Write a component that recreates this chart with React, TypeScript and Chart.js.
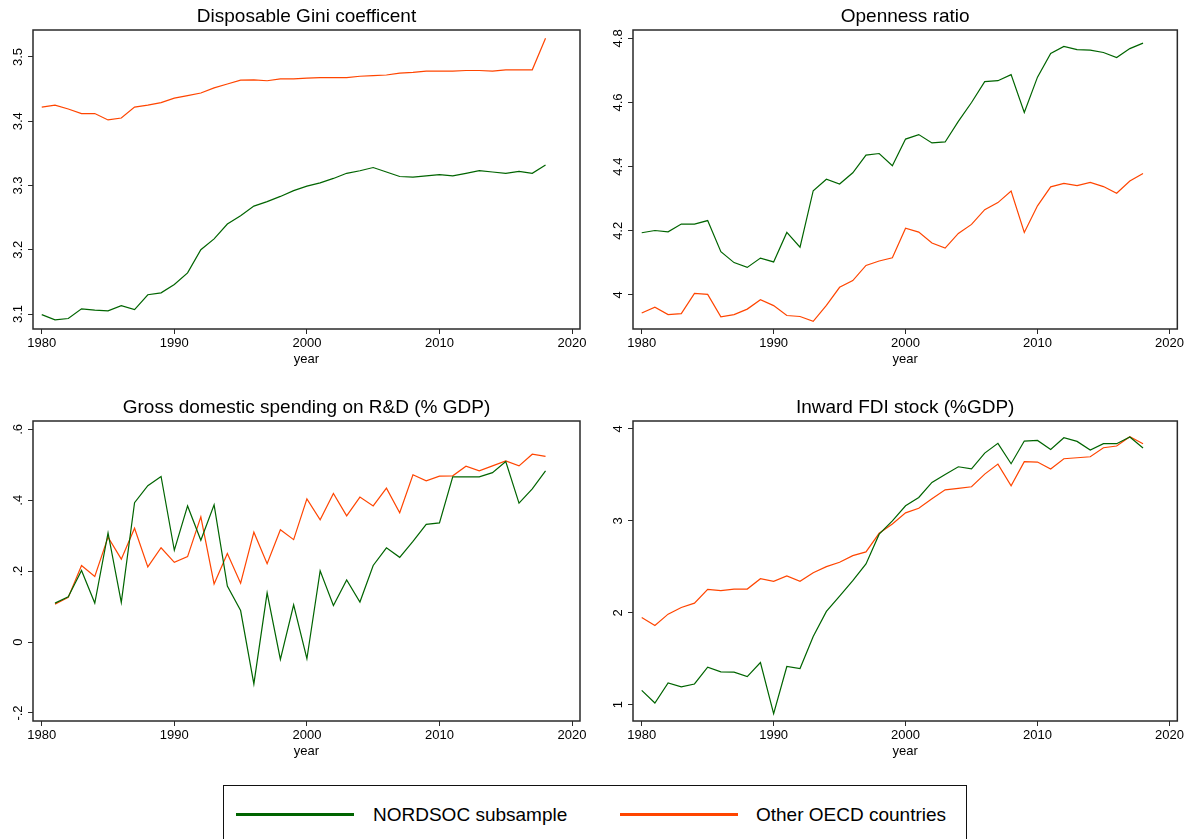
import React, { useEffect, useRef } from "react";
import { Chart, registerables } from "chart.js";

Chart.register(...registerables);

const FONT = '"Liberation Sans", Arial, Helvetica, sans-serif';
const GREEN = "#006400";
const ORANGE = "#FF4500";

const YEARS = [
  1980, 1981, 1982, 1983, 1984, 1985, 1986, 1987, 1988, 1989,
  1990, 1991, 1992, 1993, 1994, 1995, 1996, 1997, 1998, 1999,
  2000, 2001, 2002, 2003, 2004, 2005, 2006, 2007, 2008, 2009,
  2010, 2011, 2012, 2013, 2014, 2015, 2016, 2017, 2018,
];

const X_TICKS = [1980, 1990, 2000, 2010, 2020];

// Disposable Gini coefficent
const GINI_NORDSOC = [
  3.099, 3.091, 3.093, 3.108, 3.106, 3.105, 3.113, 3.107, 3.13, 3.133,
  3.146, 3.164, 3.2, 3.217, 3.24, 3.253, 3.268, 3.275, 3.283, 3.292,
  3.299, 3.304, 3.311, 3.319, 3.323, 3.328, 3.321, 3.314, 3.313, 3.315,
  3.317, 3.315, 3.319, 3.323, 3.321, 3.319, 3.322, 3.319, 3.332,
];
const GINI_OTHER = [
  3.422, 3.425, 3.419, 3.412, 3.412, 3.402, 3.405, 3.422, 3.425, 3.429,
  3.436, 3.44, 3.444, 3.452, 3.458, 3.464, 3.4645, 3.463, 3.466, 3.466,
  3.467, 3.468, 3.468, 3.468, 3.47, 3.471, 3.472, 3.475, 3.476, 3.478,
  3.478, 3.478, 3.479, 3.479, 3.478, 3.48, 3.48, 3.48, 3.529,
];
const GINI_TICKS = [3.1, 3.2, 3.3, 3.4, 3.5];
const GINI_LABELS = ["3.1", "3.2", "3.3", "3.4", "3.5"];

// Openness ratio
const OPEN_NORDSOC = [
  4.194, 4.201, 4.197, 4.221, 4.221, 4.232, 4.135, 4.101, 4.086, 4.115,
  4.103, 4.195, 4.149, 4.325, 4.361, 4.346, 4.381, 4.436, 4.441, 4.403,
  4.486, 4.5, 4.474, 4.477, 4.541, 4.6, 4.665, 4.668, 4.687, 4.569,
  4.679, 4.753, 4.775, 4.765, 4.763, 4.756, 4.74, 4.768, 4.785,
];
const OPEN_OTHER = [
  3.944, 3.962, 3.939, 3.942, 4.005, 4.002, 3.932, 3.939, 3.956, 3.985,
  3.967, 3.936, 3.933, 3.918, 3.968, 4.024, 4.045, 4.092, 4.106, 4.116,
  4.208, 4.196, 4.162, 4.146, 4.192, 4.22, 4.266, 4.288, 4.324, 4.195,
  4.278, 4.337, 4.348, 4.341, 4.351, 4.338, 4.317, 4.355, 4.379,
];
const OPEN_TICKS = [4, 4.2, 4.4, 4.6, 4.8];
const OPEN_LABELS = ["4", "4.2", "4.4", "4.6", "4.8"];

// Gross domestic spending on R&D (% GDP) - no value for 1980
const RD_NORDSOC = [
  null, 0.11, 0.128, 0.202, 0.11, 0.308, 0.112, 0.393, 0.441, 0.467,
  0.259, 0.384, 0.287, 0.387, 0.158, 0.089, -0.118, 0.139, -0.049, 0.105,
  -0.047, 0.201, 0.103, 0.175, 0.113, 0.216, 0.266, 0.239, 0.284, 0.332,
  0.336, 0.466, 0.466, 0.466, 0.478, 0.509, 0.392, 0.432, 0.483,
];
const RD_OTHER = [
  null, 0.107, 0.126, 0.216, 0.185, 0.296, 0.234, 0.321, 0.212, 0.266,
  0.225, 0.241, 0.353, 0.164, 0.25, 0.166, 0.31, 0.221, 0.317, 0.289,
  0.404, 0.345, 0.419, 0.356, 0.409, 0.384, 0.434, 0.365, 0.472, 0.455,
  0.468, 0.469, 0.496, 0.483, 0.497, 0.511, 0.497, 0.53, 0.524,
];
const RD_TICKS = [-0.2, 0, 0.2, 0.4, 0.6];
const RD_LABELS = ["-.2", "0", ".2", ".4", ".6"];

// Inward FDI stock (%GDP)
const FDI_NORDSOC = [
  1.156, 1.018, 1.236, 1.193, 1.225, 1.407, 1.356, 1.353, 1.305, 1.458,
  0.902, 1.415, 1.393, 1.742, 2.015, 2.182, 2.349, 2.531, 2.855, 3.0,
  3.164, 3.255, 3.418, 3.505, 3.589, 3.567, 3.738, 3.844, 3.622, 3.869,
  3.876, 3.778, 3.905, 3.865, 3.771, 3.84, 3.84, 3.913, 3.793,
];
const FDI_OTHER = [
  1.949, 1.862, 1.985, 2.058, 2.105, 2.255, 2.24, 2.258, 2.258, 2.371,
  2.342, 2.4, 2.342, 2.436, 2.502, 2.549, 2.622, 2.662, 2.865, 2.967,
  3.087, 3.138, 3.24, 3.338, 3.353, 3.371, 3.509, 3.618, 3.382, 3.644,
  3.64, 3.564, 3.676, 3.687, 3.698, 3.796, 3.815, 3.916, 3.84,
];
const FDI_TICKS = [1, 2, 3, 4];
const FDI_LABELS = ["1", "2", "3", "4"];

const SERIES_NAMES = ["NORDSOC subsample", "Other OECD countries"];

const framePlugin = {
  id: "frame",
  afterDraw(chart: any, _args: any, opts: any) {
    const { ctx, chartArea } = chart;
    const { left, top, right, bottom } = chartArea;
    ctx.save();
    ctx.strokeStyle = "#2a2a2a";
    ctx.lineWidth = 1.5;
    ctx.strokeRect(left, top, right - left, bottom - top);
    const ys = chart.scales.y;
    ctx.fillStyle = "#000";
    ctx.font = `13px ${FONT}`;
    ctx.textAlign = "center";
    ctx.textBaseline = "middle";
    (opts.ticks as number[]).forEach((v, i) => {
      const py = ys.getPixelForValue(v);
      ctx.save();
      ctx.translate(left - 15, py);
      ctx.rotate(-Math.PI / 2);
      ctx.fillText(opts.labels[i], 0, 0);
      ctx.restore();
    });
    ctx.restore();
  },
};

type PanelProps = {
  title: string;
  nordsoc: (number | null)[];
  other: (number | null)[];
  yMin: number;
  yMax: number;
  yTicks: number[];
  yLabels: string[];
  left: number;
  top: number;
  width: number;
  height: number;
  padRight: number;
};

function Panel(p: PanelProps) {
  const ref = useRef<HTMLCanvasElement | null>(null);
  useEffect(() => {
    if (!ref.current) return;
    const mk = (vals: (number | null)[]) =>
      YEARS.map((yr, i) => ({ x: yr, y: vals[i] }));
    const chart = new Chart(ref.current, {
      type: "line",
      data: {
        datasets: [
          {
            label: SERIES_NAMES[0],
            data: mk(p.nordsoc) as any,
            borderColor: GREEN,
            borderWidth: 1.2,
            pointRadius: 0,
            tension: 0,
            fill: false,
          },
          {
            label: SERIES_NAMES[1],
            data: mk(p.other) as any,
            borderColor: ORANGE,
            borderWidth: 1.2,
            pointRadius: 0,
            tension: 0,
            fill: false,
          },
        ],
      },
      options: {
        animation: false,
        responsive: false,
        events: [],
        layout: { padding: { left: 0, top: 0, right: p.padRight, bottom: 0 } },
        plugins: {
          legend: { display: false },
          tooltip: { enabled: false },
          title: {
            display: true,
            text: p.title,
            fullSize: false,
            color: "#000",
            font: { family: FONT, size: 19, weight: "normal", lineHeight: 1.2 },
            padding: { top: 5, bottom: 2.2 },
          },
          frame: { ticks: p.yTicks, labels: p.yLabels },
        } as any,
        scales: {
          x: {
            type: "linear",
            min: 1979.34,
            max: 2020.6,
            afterBuildTicks: (s: any) => {
              s.ticks = X_TICKS.map((v) => ({ value: v }));
            },
            afterFit: (s: any) => {
              s.height = 46;
            },
            border: { display: false },
            grid: {
              drawOnChartArea: false,
              drawTicks: true,
              tickLength: 5,
              color: "#2a2a2a",
              lineWidth: 1,
            },
            ticks: {
              color: "#000",
              font: { family: FONT, size: 13 },
              padding: 2,
              maxRotation: 0,
              autoSkip: false,
              callback: (v: any) => String(v),
            },
            title: {
              display: true,
              text: "year",
              color: "#000",
              font: { family: FONT, size: 13, lineHeight: 1.2 },
              padding: { top: 0, bottom: 8.2 },
            },
          },
          y: {
            type: "linear",
            min: p.yMin,
            max: p.yMax,
            afterBuildTicks: (s: any) => {
              s.ticks = p.yTicks.map((v) => ({ value: v }));
            },
            afterFit: (s: any) => {
              s.width = 33;
            },
            border: { display: false },
            grid: {
              drawOnChartArea: false,
              drawTicks: true,
              tickLength: 5,
              color: "#2a2a2a",
              lineWidth: 1,
            },
            ticks: {
              color: "rgba(0,0,0,0)",
              font: { family: FONT, size: 13 },
              callback: (_v: any, i: number) => p.yLabels[i],
            },
          },
        },
      },
      plugins: [framePlugin],
    });
    return () => chart.destroy();
  }, []);
  return (
    <div
      style={{
        position: "absolute",
        left: p.left,
        top: p.top,
        width: p.width,
        height: p.height,
      }}
    >
      <canvas
        ref={ref}
        width={p.width}
        height={p.height}
        style={{ display: "block", width: p.width, height: p.height }}
      />
    </div>
  );
}

export default function App() {
  const textStyle: React.CSSProperties = {
    position: "absolute",
    fontFamily: FONT,
    fontSize: 19,
    lineHeight: "22px",
    color: "#000",
    whiteSpace: "nowrap",
  };
  return (
    <div
      style={{
        position: "absolute",
        left: 0,
        top: 0,
        width: 1186,
        height: 839,
        overflow: "hidden",
        background: "#fff",
        fontFamily: FONT,
      }}
    >
      <Panel
        title="Disposable Gini coefficent"
        nordsoc={GINI_NORDSOC}
        other={GINI_OTHER}
        yMin={3.0767}
        yMax={3.542}
        yTicks={GINI_TICKS}
        yLabels={GINI_LABELS}
        left={0}
        top={0}
        width={593}
        height={375}
        padRight={13}
      />
      <Panel
        title="Openness ratio"
        nordsoc={OPEN_NORDSOC}
        other={OPEN_OTHER}
        yMin={3.894}
        yMax={4.826}
        yTicks={OPEN_TICKS}
        yLabels={OPEN_LABELS}
        left={600}
        top={0}
        width={586}
        height={375}
        padRight={7}
      />
      <Panel
        title="Gross domestic spending on R&D (% GDP)"
        nordsoc={RD_NORDSOC}
        other={RD_OTHER}
        yMin={-0.2226}
        yMax={0.6236}
        yTicks={RD_TICKS}
        yLabels={RD_LABELS}
        left={0}
        top={391}
        width={593}
        height={376}
        padRight={13}
      />
      <Panel
        title="Inward FDI stock (%GDP)"
        nordsoc={FDI_NORDSOC}
        other={FDI_OTHER}
        yMin={0.822}
        yMax={4.087}
        yTicks={FDI_TICKS}
        yLabels={FDI_LABELS}
        left={600}
        top={391}
        width={586}
        height={376}
        padRight={7}
      />
      <div
        style={{
          position: "absolute",
          left: 223,
          top: 785,
          width: 744,
          height: 80,
          border: "1.5px solid #111",
          boxSizing: "border-box",
        }}
      />
      <div style={{ position: "absolute", left: 236, top: 813, width: 118, height: 3, background: GREEN }} />
      <div style={{ ...textStyle, left: 373, top: 804 }}>{SERIES_NAMES[0]}</div>
      <div style={{ position: "absolute", left: 620, top: 813, width: 118, height: 3, background: ORANGE }} />
      <div style={{ ...textStyle, left: 756, top: 804 }}>{SERIES_NAMES[1]}</div>
    </div>
  );
}
